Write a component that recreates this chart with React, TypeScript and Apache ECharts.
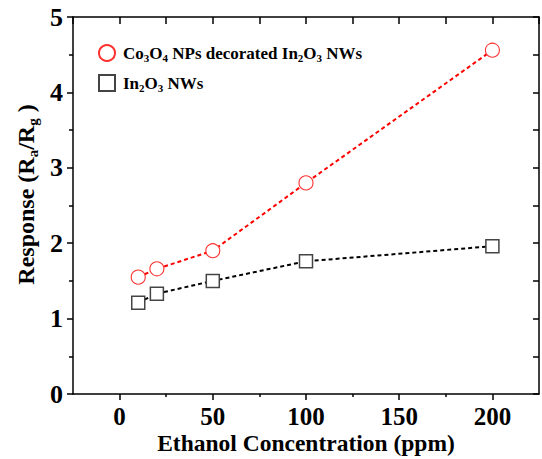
import React, { useEffect, useRef } from "react";
import * as echarts from "echarts";

const concentration = [10, 20, 50, 100, 200];
const co3o4Response = [1.55, 1.66, 1.9, 2.8, 4.56];
const in2o3Response = [1.21, 1.33, 1.5, 1.76, 1.96];
const seriesNames = ["Co3O4 NPs decorated In2O3 NWs", "In2O3 NWs"];
const xMajorTicks = [0, 50, 100, 150, 200];
const xMinorTicks = [25, 75, 125, 175];
const xAxisTitle = "Ethanol Concentration (ppm)";

const FONT = "'Liberation Serif', 'Times New Roman', serif";

function toRich(name: string): string {
  let out = "";
  let buf = "";
  let inSub = false;
  for (const ch of name) {
    const isDigit = /[0-9]/.test(ch);
    if (isDigit !== inSub) {
      if (buf) out += `{${inSub ? "s" : "b"}|${buf}}`;
      buf = "";
      inSub = isDigit;
    }
    buf += ch;
  }
  if (buf) out += `{${inSub ? "s" : "b"}|${buf}}`;
  return out;
}

export default function App() {
  const ref = useRef<HTMLDivElement>(null);
  useEffect(() => {
    if (!ref.current) return;
    const chart = echarts.init(ref.current, null, { renderer: "svg" });
    const axisLine = () => ({ show: true, onZero: false, lineStyle: { color: "#000", width: 1.5 } });
    const tickStyle = { color: "#000", width: 1.5 };
    chart.setOption({
      animation: false,
      backgroundColor: "#fff",
      grid: { left: 73, right: 3, top: 17, bottom: 65, containLabel: false, outerBoundsMode: "none" },
      legend: {
        orient: "vertical",
        left: 93,
        top: 39,
        padding: 5,
        itemWidth: 16,
        itemHeight: 16,
        itemGap: 11,
        data: [
          { name: seriesNames[0], icon: "circle" },
          { name: seriesNames[1], icon: "rect" },
        ],
        formatter: (n: string) => toRich(n),
        textStyle: {
          padding: [0, 0, 0, 3],
          rich: {
            b: { fontFamily: FONT, fontWeight: "bold", fontSize: 17, lineHeight: 20, color: "#000" },
            s: { fontFamily: FONT, fontWeight: "bold", fontSize: 11, lineHeight: 11, verticalAlign: "bottom", color: "#000" },
          },
        },
      },
      xAxis: [
        {
          type: "value",
          min: -25,
          max: 225,
          interval: 25,
          position: "bottom",
          axisLine: axisLine(),
          splitLine: { show: false },
          axisTick: { show: true, inside: false, length: 6, lineStyle: tickStyle, customValues: xMajorTicks },
          axisLabel: {
            show: true,
            customValues: xMajorTicks,
            margin: 13,
            lineHeight: 18,
            fontFamily: FONT,
            fontWeight: "bold",
            fontSize: 25,
            color: "#000",
          },
          name: xAxisTitle,
          nameLocation: "middle",
          nameGap: 40,
          nameMoveOverlap: false,
          nameTextStyle: { fontFamily: FONT, fontWeight: "bold", fontSize: 23.5, lineHeight: 18, color: "#000" },
        },
        {
          type: "value",
          min: -25,
          max: 225,
          interval: 25,
          position: "bottom",
          axisLine: { show: false, onZero: false },
          splitLine: { show: false },
          axisTick: { show: true, inside: false, length: 3, lineStyle: tickStyle, customValues: xMinorTicks },
          axisLabel: { show: false },
        },
        {
          type: "value",
          min: -25,
          max: 225,
          interval: 25,
          position: "top",
          axisLine: axisLine(),
          splitLine: { show: false },
          axisTick: { show: true, inside: true, length: 7, lineStyle: tickStyle },
          axisLabel: { show: false },
        },
      ],
      yAxis: [
        {
          type: "value",
          min: 0,
          max: 5,
          interval: 1,
          position: "left",
          axisLine: axisLine(),
          splitLine: { show: false },
          axisTick: { show: true, inside: false, length: 6, lineStyle: tickStyle },
          minorTick: { show: true, splitNumber: 2, length: 4, lineStyle: tickStyle },
          minorSplitLine: { show: false },
          axisLabel: {
            margin: 10,
            fontFamily: FONT,
            fontWeight: "bold",
            fontSize: 26,
            color: "#000",
          },
        },
        {
          type: "value",
          min: 0,
          max: 5,
          interval: 0.5,
          position: "right",
          axisLine: axisLine(),
          splitLine: { show: false },
          axisTick: { show: true, inside: true, length: 6, lineStyle: tickStyle },
          axisLabel: { show: false },
        },
      ],
      graphic: [
        {
          type: "text",
          x: 26,
          y: 194.5,
          rotation: Math.PI / 2,
          style: {
            text: "{b|Response (R}{s|a}{b|/R}{s|g}{b| )}",
            align: "center",
            verticalAlign: "middle",
            rich: {
              b: { fontFamily: FONT, fontWeight: "bold", fontSize: 24, lineHeight: 28, fill: "#000" },
              s: { fontFamily: FONT, fontWeight: "bold", fontSize: 15, lineHeight: 15, verticalAlign: "bottom", fill: "#000" },
            },
          },
        },
      ],
      series: [
        {
          name: seriesNames[0],
          type: "line",
          xAxisIndex: 0,
          yAxisIndex: 0,
          data: concentration.map((x, i) => [x, co3o4Response[i]]),
          symbol: "circle",
          symbolSize: 14,
          showAllSymbol: true,
          lineStyle: { color: "#ff0000", width: 2, type: [4, 3] },
          itemStyle: { color: "#fff", borderColor: "#ff3030", borderWidth: 1.1 },
          z: 3,
        },
        {
          name: seriesNames[1],
          type: "line",
          xAxisIndex: 0,
          yAxisIndex: 0,
          data: concentration.map((x, i) => [x, in2o3Response[i]]),
          symbol: "rect",
          symbolSize: 13,
          showAllSymbol: true,
          lineStyle: { color: "#000", width: 2, type: [4, 3] },
          itemStyle: { color: "#fff", borderColor: "#444", borderWidth: 1.5 },
          z: 2,
        },
        {
          name: "mirror",
          type: "line",
          xAxisIndex: 2,
          yAxisIndex: 1,
          data: [],
          silent: true,
        },
        {
          name: "minor",
          type: "line",
          xAxisIndex: 1,
          yAxisIndex: 0,
          data: [],
          silent: true,
        },
      ],
    });
    return () => chart.dispose();
  }, []);
  return (
    <div
      ref={ref}
      style={{ position: "absolute", left: 0, top: 0, width: 542, height: 459 }}
    />
  );
}
